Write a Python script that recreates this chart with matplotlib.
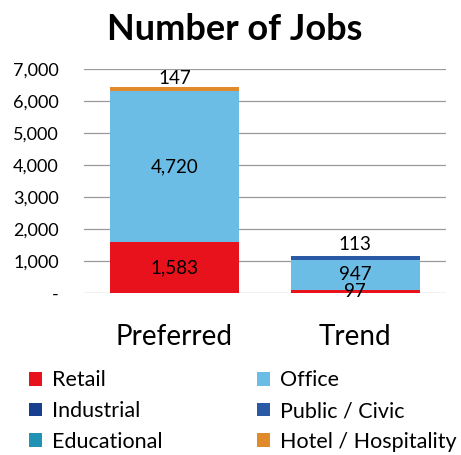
import matplotlib
matplotlib.use("Agg")
import matplotlib.pyplot as plt
import numpy as np

plt.rcParams['font.family'] = ['Lato', 'DejaVu Sans']

categories = ["Preferred", "Trend"]
series_names = ["Retail", "Industrial", "Educational", "Office", "Public / Civic", "Hotel / Hospitality"]
retail = [1583, 97]
industrial = [0, 0]
educational = [0, 0]
office = [4720, 947]
public_civic = [0, 113]
hotel = [147, 0]
yticks = [0, 1000, 2000, 3000, 4000, 5000, 6000, 7000]
ytick_labels = ["-", "1,000", "2,000", "3,000", "4,000", "5,000", "6,000", "7,000"]

colors = ["#e8121c", "#173f8f", "#1f93b3", "#6cbde6", "#2a5aa6", "#e08a2c"]
series = [retail, industrial, educational, office, public_civic, hotel]

fig = plt.figure(figsize=(4.61, 4.55), dpi=100)
ax = fig.add_axes([0.182, 0.356, 0.785, 0.492])

x = np.arange(len(categories))
bottom = np.zeros(len(categories))
bars = []
for name, vals, c in zip(series_names, series, colors):
    b = ax.bar(x, vals, width=0.71, bottom=bottom, color=c, label=name, zorder=3)
    bars.append(b)
    bottom += np.array(vals, dtype=float)

totals = bottom

ax.set_xlim(-0.5, 1.5)
ax.set_ylim(0, 7000)
ax.set_yticks(yticks)
ax.set_yticklabels(ytick_labels, fontsize=13)
ax.set_xticks(x)
ax.set_xticklabels(categories, fontsize=20)
ax.tick_params(axis='both', length=0)
ax.tick_params(axis='y', pad=18)
ax.tick_params(axis='x', pad=22)
ax.yaxis.grid(True, color="#9a9a9a", linewidth=0.9, zorder=0)
for s in ax.spines.values():
    s.set_visible(False)

fs = 13.5
# Preferred labels
ax.text(x[0], retail[0] / 2, f"{retail[0]:,}", ha='center', va='center', fontsize=fs, zorder=5)
ax.text(x[0], retail[0] + office[0] / 2, f"{office[0]:,}", ha='center', va='center', fontsize=fs, zorder=5)
ax.text(x[0], totals[0], f"{hotel[0]:,}", ha='center', va='bottom', fontsize=fs, zorder=5)
# Trend labels
ax.text(x[1], retail[1] / 2, f"{retail[1]:,}", ha='center', va='center', fontsize=fs, zorder=5)
ax.text(x[1], retail[1] + office[1] / 2, f"{office[1]:,}", ha='center', va='center', fontsize=fs, zorder=5)
ax.text(x[1], totals[1] + 100, f"{public_civic[1]:,}", ha='center', va='bottom', fontsize=fs, zorder=5)

fig.text(0.51, 0.935, "Number of Jobs", ha='center', va='center', fontsize=26, fontweight='bold')

handles = [b[0] for b in bars]
fig.legend(handles, series_names, ncol=2, loc='upper left', bbox_to_anchor=(0.045, 0.205),
           frameon=False, fontsize=15.5, handlelength=0.6, handleheight=0.6,
           handletextpad=0.45, columnspacing=4.4, labelspacing=0.5, borderaxespad=0)

fig.savefig("out.png", dpi=100)
